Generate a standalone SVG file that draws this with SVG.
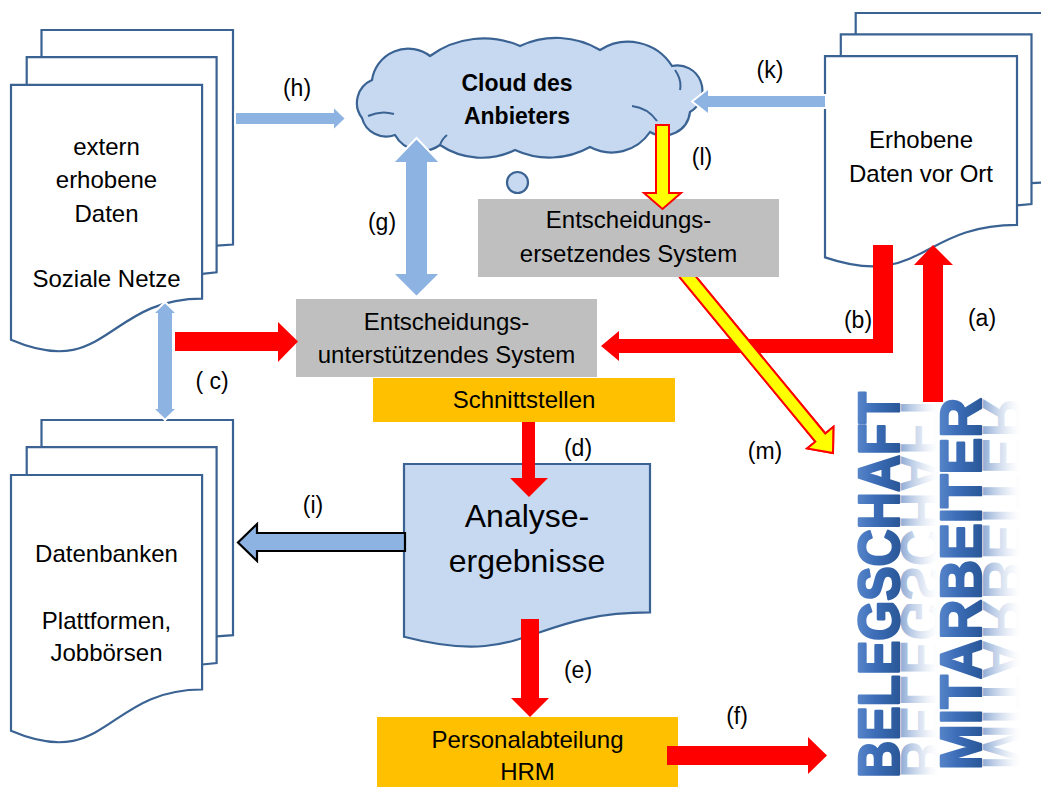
<svg xmlns="http://www.w3.org/2000/svg" width="1041" height="790" viewBox="0 0 1041 790">
<style>
.doc{fill:#fff;stroke:#3a6393;stroke-width:2.2}
.blue{fill:#c6d9f1;stroke:#3a6393;stroke-width:2.2}
.lb{fill:#8db3e2;stroke:#fff;stroke-width:2}
.lbk{fill:#8db3e2;stroke:#000;stroke-width:2.2}
.red{fill:#ff0000}
.yel{fill:#ffff00;stroke:#ff0000;stroke-width:2}
.t{font-family:"Liberation Sans",Arial,sans-serif;font-size:24px;fill:#000;text-anchor:middle}
.lab{font-size:23px}
.big{font-family:"Liberation Sans",Arial,sans-serif;font-size:58px;font-weight:bold}
</style>
<defs>
<linearGradient id="gBlue" gradientUnits="userSpaceOnUse" x1="0" y1="-44" x2="0" y2="0">
<stop offset="0" stop-color="#5a88cc"/><stop offset="0.45" stop-color="#3c6db7"/><stop offset="1" stop-color="#2a5899"/>
</linearGradient>
<linearGradient id="gRef" gradientUnits="userSpaceOnUse" x1="0" y1="0" x2="0" y2="-38">
<stop offset="0" stop-color="#7396cb" stop-opacity="0.8"/><stop offset="0.5" stop-color="#a9bedf" stop-opacity="0.45"/><stop offset="1" stop-color="#dfe7f3" stop-opacity="0"/>
</linearGradient>
<clipPath id="clipM"><rect x="600" y="278" width="300" height="200"/></clipPath>
</defs>

<g id="doc-extern">
<path class="doc" d="M41.5,30 H233 V244.5 L216.6,245.7 H41.5 Z"/>
<path class="doc" d="M26.7,57.1 H216.6 V272.3 L202.1,273.8 H26.7 Z"/>
<path class="doc" d="M11,84.8 H202.1 V298.7 C106.6,298.7 106.6,380.9 11,339.8 Z"/>
<text class="t" x="106.5" y="155">extern</text>
<text class="t" x="106.5" y="188">erhobene</text>
<text class="t" x="106.5" y="222">Daten</text>
<text class="t" x="106.5" y="287">Soziale Netze</text>
</g>

<g id="doc-datenbanken">
<path class="doc" d="M41.5,420 H233 V635.2 L216.6,636.3 H41.5 Z"/>
<path class="doc" d="M26.7,447.1 H216.6 V663 L202.1,664.5 H26.7 Z"/>
<path class="doc" d="M11,475 H202.1 V689.5 C106.6,689.5 106.6,772 11,730.8 Z"/>
<text class="t" x="106.5" y="562">Datenbanken</text>
<text class="t" x="106.5" y="629">Plattformen,</text>
<text class="t" x="106.5" y="661">Jobbörsen</text>
</g>

<g id="doc-vorort">
<path class="doc" d="M855.7,13 H1048 V182.2 L1031.5,183.1 H855.7 Z"/>
<path class="doc" d="M840.8,34.3 H1031.5 V204.1 L1017,205.3 H840.8 Z"/>
<path class="doc" d="M825,56.2 H1017 V224.9 C921,224.9 921,289.8 825,257.4 Z"/>
<text class="t" x="921" y="148">Erhobene</text>
<text class="t" x="921" y="182">Daten vor Ort</text>
</g>

<g id="cloud">
<path class="blue" d="M362,118 A25,25 0 0,1 372,80 A36.5,36.5 0 0,1 430,56 A91,91 0 0,1 520,46 A85,85 0 0,1 600,50 A52,52 0 0,1 672,66 A25,25 0 0,1 690,112 A26.7,26.7 0 0,1 650,132 A46,46 0 0,1 590,147 A82.6,82.6 0 0,1 515,150 A75,75 0 0,1 440,145 A31,31 0 0,1 395,135 A25,25 0 0,1 362,118 Z"/>
<path d="M368,116 Q381,110 394,114 M632,106 Q648,108 657,121 M675,70 Q682,80 680,90 M440,145 Q442,139 447,135" fill="none" stroke="#3a6393" stroke-width="2"/>
<circle class="blue" cx="517.5" cy="182.5" r="10.5"/>
<text class="t" x="517" y="91" style="font-weight:bold;font-size:23px">Cloud des</text>
<text class="t" x="517" y="124" style="font-weight:bold;font-size:23px">Anbieters</text>
</g>

<g id="connector-m-under">
<polygon class="yel" points="683,260.9 825.3,433.5 833.4,426.8 833,453 807.2,448.4 815.3,441.7 673,269.1"/>
</g>

<g id="box-ersetzend">
<rect x="478" y="199" width="301" height="78" fill="#bfbfbf"/>
<text class="t" x="628.5" y="228">Entscheidungs-</text>
<text class="t" x="628.5" y="262">ersetzendes System</text>
</g>

<g id="box-unterstuetzend">
<rect x="296" y="299" width="301" height="78" fill="#bfbfbf"/>
<text class="t" x="446.5" y="330">Entscheidungs-</text>
<text class="t" x="446.5" y="363">unterstützendes System</text>
</g>

<g id="box-schnittstellen">
<rect x="373" y="378" width="302" height="44" fill="#ffc000"/>
<text class="t" x="524" y="408">Schnittstellen</text>
</g>

<g id="doc-analyse">
<path class="blue" d="M404,464 H650 V612.4 C527,612.4 527,668.9 404,636.8 Z"/>
<text class="t" x="527" y="527" style="font-size:32px">Analyse-</text>
<text class="t" x="527" y="572" style="font-size:32px">ergebnisse</text>
</g>

<g id="box-personal">
<rect x="377" y="717" width="301" height="70" fill="#ffc000"/>
<text class="t" x="527.5" y="748">Personalabteilung</text>
<text class="t" x="527.5" y="780">HRM</text>
</g>

<g id="belegschaft">
<g transform="translate(901,778) rotate(-90) scale(1,-1)">
<text class="big" x="0" y="0" fill="url(#gRef)" textLength="386" lengthAdjust="spacingAndGlyphs">BELEGSCHAFT</text>
</g>
<g transform="translate(899,778) rotate(-90)">
<text class="big" x="0" y="0" fill="url(#gBlue)" stroke="url(#gBlue)" stroke-width="2.5" stroke-linejoin="round" textLength="386" lengthAdjust="spacingAndGlyphs">BELEGSCHAFT</text>
</g>
</g>
<g id="mitarbeiter">
<g transform="translate(983,770) rotate(-90) scale(1,-1)">
<text class="big" x="0" y="0" fill="url(#gRef)" textLength="372" lengthAdjust="spacingAndGlyphs">MITARBEITER</text>
</g>
<g transform="translate(981,770) rotate(-90)">
<text class="big" x="0" y="0" fill="url(#gBlue)" stroke="url(#gBlue)" stroke-width="2.5" stroke-linejoin="round" textLength="372" lengthAdjust="spacingAndGlyphs">MITARBEITER</text>
</g>
</g>

<g id="connectors">
<polygon class="lb" points="235,112 333,112 333,106 346,118.5 333,131 333,125 235,125"/>
<polygon class="lb" points="826,95 709,95 709,88 692,101.5 709,115 709,108 826,108"/>
<polygon class="lb" points="416.5,138 440.5,163 428,163 428,273 440.5,273 416.5,297 392.5,273 405,273 405,163 392.5,163"/>
<polygon class="lb" points="165,302 177.5,314 173,314 173,408 177.5,408 165,420 152.5,408 157,408 157,314 152.5,314"/>
<polygon class="yel" points="656,125 669,125 669,193 681,193 662.5,209 644,193 656,193"/>
<polygon class="red" points="175,332 278,332 278,322 298,341.5 278,362 278,351 175,351"/>
<polygon class="red" points="873,245 893,245 893,353 619,353 619,361 601,346 619,331 619,339 873,339"/>
<polygon class="red" points="923,402 923,265 914,265 933,245 953,265 943,265 943,402"/>
<polygon class="yel" points="683,260.9 825.3,433.5 833.4,426.8 833,453 807.2,448.4 815.3,441.7 673,269.1" clip-path="url(#clipM)"/>
<polygon class="red" points="522,422 535,422 535,478 548,478 529,497 510,478 522,478"/>
<polygon class="red" points="521,619 539,619 539,698 549,698 530,717 511,698 521,698"/>
<polygon class="red" points="667,746 808,746 808,737 827,755.5 808,774 808,765 667,765"/>
<polygon class="lbk" points="405,533 257,533 257,524 238,542.5 257,561 257,551 405,551"/>
</g>

<g id="labels">
<text class="t lab" x="297" y="96">(h)</text>
<text class="t lab" x="770" y="78">(k)</text>
<text class="t lab" x="702" y="165">(l)</text>
<text class="t lab" x="382" y="230">(g)</text>
<text class="t lab" x="858" y="328">(b)</text>
<text class="t lab" x="982" y="326">(a)</text>
<text class="t lab" x="212" y="389">( c)</text>
<text class="t lab" x="578" y="456">(d)</text>
<text class="t lab" x="765" y="459">(m)</text>
<text class="t lab" x="313" y="513">(i)</text>
<text class="t lab" x="578" y="678">(e)</text>
<text class="t lab" x="737" y="724">(f)</text>
</g>
</svg>
